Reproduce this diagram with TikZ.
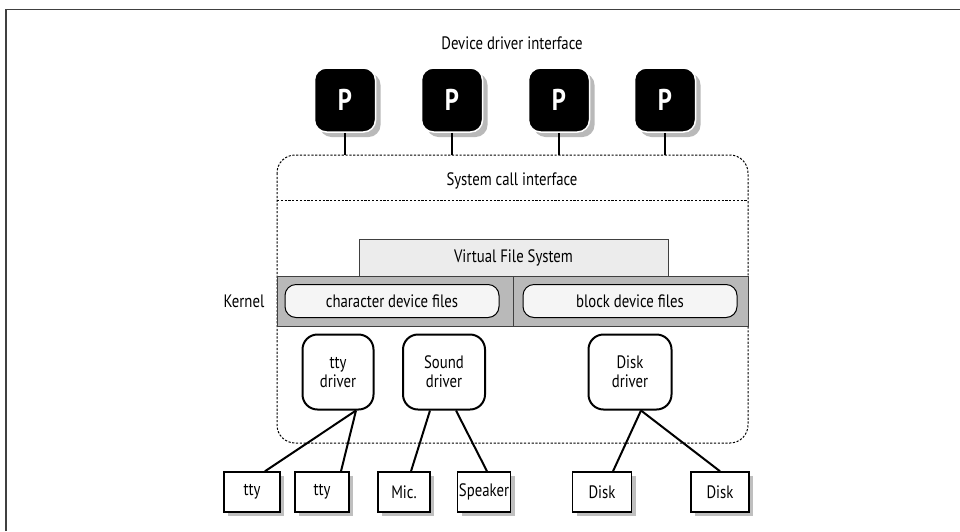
\documentclass[tikz,border=0pt]{standalone}
\usepackage{fontspec}
\setmainfont{PT Sans}[FakeStretch=0.82]
\usetikzlibrary{calc}
\begin{document}
\begin{tikzpicture}[x=1pt,y=-1pt,
  lbl/.style={font=\fontsize{18}{20}\selectfont},
  pbox/.style={fill=black,draw=white,line width=1.5pt,rounded corners=12pt,minimum width=61pt,minimum height=64pt,inner sep=0pt,text=white,font=\fontsize{30}{32}\selectfont\bfseries},
  pshadow/.style={fill=gray!55,rounded corners=12pt},
  conn/.style={line width=2pt,black},
  dashedbox/.style={line width=1pt,dash pattern=on 2.2pt off 1.6pt},
  vfsbox/.style={fill=gray!15,draw=black!75,line width=1pt},
  bandbox/.style={fill=gray!55,draw=black!75,line width=1pt},
  pill/.style={fill=gray!8,draw=black,line width=1pt,rounded corners=11pt,minimum height=33pt,inner sep=0pt,font=\fontsize{18}{20}\selectfont},
  drv/.style={fill=white,draw=black,line width=2pt,rounded corners=15pt,minimum height=75pt,inner sep=0pt,align=center,font=\fontsize{18}{19}\selectfont},
  dev/.style={fill=white,draw=black,line width=1.5pt,minimum height=40pt,inner sep=0pt,font=\fontsize{18}{20}\selectfont},
  devshadow/.style={fill=gray!50}
]
\useasboundingbox (0,0) rectangle (960,531);
% frame
\draw[line width=1.5pt,black!75] (6,531) -- (6,9.5) -- (960,9.5);
% title
\node[lbl] (title) at (512,43) {Device driver interface};
% container
\draw[dashedbox,rounded corners=18pt] (277,155) rectangle (748,443);
\coordinate (sl) at (277,200);
\coordinate (sr) at (748,200);
\draw[dashedbox] (sl) -- (sr);
\node[lbl] (sci) at (512,181) {System call interface};
% processes
\foreach \i/\x in {1/345,2/452,3/559,4/665}{
  \fill[pshadow] (\x-30.5+5,68+5) rectangle (\x+30.5+5,132+5);
  \node[pbox] (p\i) at (\x,100) {P};
  \coordinate (t\i) at (\x,155);
  \draw[conn] (p\i.south) -- (t\i);
}
% VFS
\draw[vfsbox] (359,239) rectangle (668,276);
\node[lbl] (vfs) at (513.5,257.5) {Virtual File System};
% kernel band
\draw[bandbox] (277,276) rectangle (748,326);
\draw[black!75,line width=1pt] (513,276) -- (513,326);
\node[lbl] (kernel) at (244,301) {Kernel};
\node[pill,minimum width=214pt] (cdf) at (392,301) {character device files};
\node[pill,minimum width=214pt] (bdf) at (630,301) {block device files};
% drivers
\node[drv,minimum width=71pt] (ttyd) at (338,372) {tty\\driver};
\node[drv,minimum width=82pt] (sndd) at (444,372) {Sound\\driver};
\node[drv,minimum width=83pt] (dskd) at (630,372) {Disk\\driver};
% devices
\foreach \n/\x/\w in {tty1/252/56,tty2/322/54,mic/404/52,spk/484/53,disk1/602/59,disk2/720/58}{
  \fill[devshadow] (\x-\w/2+4,472+4) rectangle (\x+\w/2+4,512+4);
}
\node[dev,minimum width=56pt] (tty1) at (252,492) {tty};
\node[dev,minimum width=54pt] (tty2) at (322,492) {tty};
\node[dev,minimum width=52pt] (mic) at (404,492) {Mic.};
\node[dev,minimum width=53pt] (spk) at (484,492) {Speaker};
\node[dev,minimum width=59pt] (disk1) at (602,492) {Disk};
\node[dev,minimum width=58pt] (disk2) at (720,492) {Disk};
% connectors
\draw[conn] ([xshift=18pt]ttyd.south) -- ([xshift=13pt]tty1.north);
\draw[conn] ([xshift=18pt]ttyd.south) -- ([xshift=19pt]tty2.north);
\draw[conn] ([xshift=-14pt]sndd.south) -- ([xshift=7pt]mic.north);
\draw[conn] ([xshift=12pt]sndd.south) -- ([xshift=3pt]spk.north);
\draw[conn] ([xshift=11pt]dskd.south) -- ([xshift=11pt]disk1.north);
\draw[conn] ([xshift=11pt]dskd.south) -- ([xshift=0pt]disk2.north);
\end{tikzpicture}
\end{document}
